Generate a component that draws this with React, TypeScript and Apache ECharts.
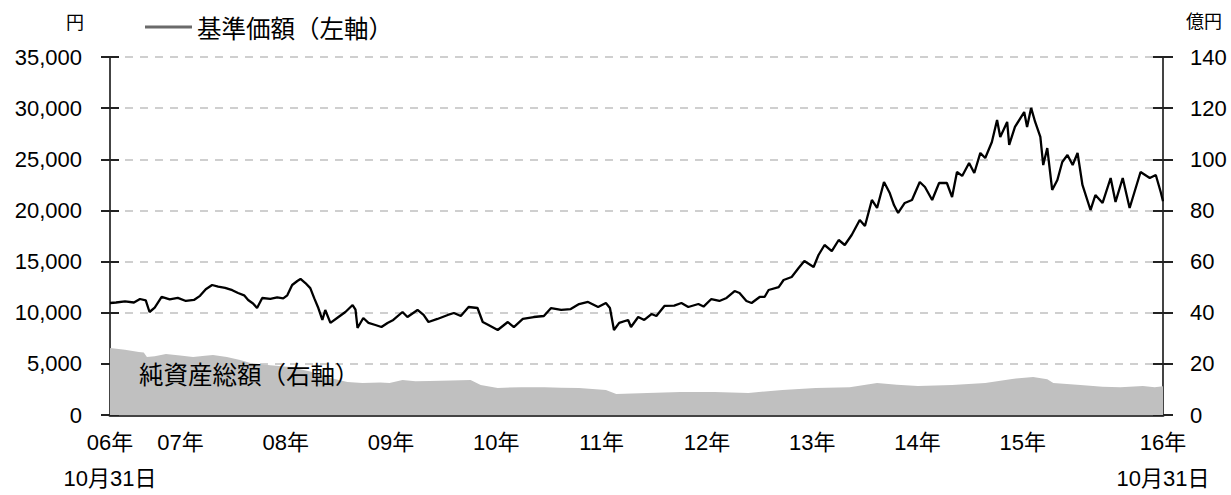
import React, { useEffect, useRef } from "react";
import * as echarts from "echarts";

// 基準価額 (円)
const navDates = [
  "2006-10-31","2006-11-21","2006-12-22","2007-01-22","2007-02-12","2007-03-04","2007-03-17","2007-04-04","2007-04-28","2007-05-26",
  "2007-06-23","2007-07-21","2007-08-18","2007-09-08","2007-09-28","2007-10-20","2007-11-10","2007-12-04","2007-12-29","2008-01-18",
  "2008-02-08","2008-02-22","2008-03-10","2008-03-24","2008-04-11","2008-05-09","2008-06-02","2008-06-23","2008-07-07","2008-07-24",
  "2008-08-11","2008-08-22","2008-09-08","2008-09-25","2008-10-09","2008-10-23","2008-11-06","2008-11-16","2008-12-04","2009-01-01",
  "2009-01-25","2009-02-19","2009-03-01","2009-03-08","2009-03-28","2009-04-15","2009-05-09","2009-05-30","2009-06-20","2009-07-10",
  "2009-08-11","2009-08-28","2009-10-02","2009-10-23","2009-11-09","2009-12-10","2010-01-15","2010-02-05","2010-03-01","2010-03-28",
  "2010-04-28","2010-05-16","2010-06-05","2010-07-07","2010-08-11","2010-09-01","2010-10-02","2010-11-09","2010-12-14","2011-01-08",
  "2011-02-12","2011-03-17","2011-04-15","2011-05-16","2011-06-20","2011-07-17","2011-07-31","2011-08-14","2011-09-01","2011-10-02",
  "2011-10-12","2011-11-06","2011-11-27","2011-12-22","2012-01-08","2012-02-05","2012-03-10","2012-04-04","2012-04-28","2012-06-02",
  "2012-06-20","2012-07-17","2012-08-14","2012-09-08","2012-10-06","2012-10-23","2012-11-16","2012-12-04","2013-01-01","2013-01-18",
  "2013-02-01","2013-03-08","2013-03-25","2013-04-22","2013-05-16","2013-06-05","2013-07-07","2013-07-24","2013-08-14","2013-09-08",
  "2013-10-02","2013-10-23","2013-11-16","2013-12-14","2014-01-01","2014-01-25","2014-02-12","2014-03-08","2014-03-28","2014-04-12",
  "2014-04-26","2014-05-19","2014-06-13","2014-07-10","2014-07-28","2014-08-22","2014-09-15","2014-10-12","2014-10-30","2014-11-16",
  "2014-12-04","2014-12-28","2015-01-15","2015-02-05","2015-02-22","2015-03-17","2015-04-04","2015-04-15","2015-05-09","2015-05-16",
  "2015-06-05","2015-07-07","2015-07-17","2015-07-31","2015-08-14","2015-09-01","2015-09-11","2015-09-25","2015-10-12","2015-10-30",
  "2015-11-16","2015-12-04","2015-12-22","2016-01-08","2016-01-25","2016-02-22","2016-03-10","2016-04-04","2016-05-02","2016-05-19",
  "2016-06-13","2016-07-07","2016-08-14","2016-09-15","2016-10-06","2016-10-23","2016-10-31"
];
const navValues = [
  10950,11000,11100,11000,11340,11200,10070,10500,11540,11300,
  11450,11150,11250,11650,12300,12710,12550,12420,12200,11930,
  11700,11240,10900,10460,11440,11350,11500,11400,11700,12710,
  13100,13300,12900,12400,11400,10460,9290,10270,9000,9580,
  10070,10750,10300,8510,9480,9000,8800,8600,9000,9290,
  10070,9580,10270,9780,9090,9390,9780,9970,9680,10560,
  10460,9090,8800,8310,9090,8600,9390,9580,9680,10460,
  10270,10360,10850,11050,10560,10950,10460,8310,9000,9290,
  8600,9580,9290,9870,9680,10660,10700,10950,10560,10850,
  10600,11340,11150,11440,12120,11930,11150,10950,11540,11540,
  12220,12510,13200,13490,14370,15060,14470,15640,16620,16030,
  17110,16620,17600,19070,18480,21020,20240,22780,21700,20500,
  19750,20730,21020,22780,22290,21020,22680,22680,21310,23760,
  23370,24640,23660,25620,25130,26690,28840,27180,28650,26400,
  28160,29620,28160,30020,28650,27180,24440,26100,22000,22980,
  24740,25420,24440,25620,22490,20040,21510,20730,23170,20830,
  23170,20240,23760,23170,23460,21800,20900
];

// 純資産総額 (億円)
const assetDates = [
  "2006-10-31","2006-12-22","2007-02-08","2007-02-25","2007-03-08","2007-04-04","2007-05-13","2007-07-01","2007-08-15","2007-09-25",
  "2007-10-23","2007-12-10","2008-01-25","2008-03-01","2008-05-09","2008-07-17","2008-09-25","2008-12-04","2009-02-01","2009-03-25",
  "2009-05-26","2009-06-27","2009-08-11","2009-09-25","2009-11-13","2010-01-25","2010-04-04","2010-05-09","2010-07-07","2010-09-25",
  "2010-12-17","2011-02-12","2011-04-15","2011-07-17","2011-08-22","2011-12-08","2012-04-01","2012-07-28","2012-11-23","2013-03-21",
  "2013-07-14","2013-11-09","2014-02-12","2014-04-22","2014-07-04","2014-10-30","2015-02-22","2015-05-26","2015-08-07","2015-09-25",
  "2015-10-16","2016-01-18","2016-04-04","2016-06-05","2016-08-22","2016-10-02","2016-10-31"
];
const assetValues = [
  26.2,25.5,24.6,24.4,22.7,23.0,23.9,23.3,22.7,23.2,
  23.5,22.7,21.5,20.3,19.5,18.8,17.0,14.5,12.9,12.5,
  12.7,12.5,13.7,13.2,13.3,13.5,13.7,11.7,10.6,10.9,
  10.9,10.7,10.6,9.8,8.2,8.6,9.0,9.0,8.6,9.8,
  10.6,10.9,12.5,11.8,11.3,11.7,12.5,14.1,14.9,14.0,
  12.5,11.7,11.0,10.9,11.3,10.9,11.2
];

const yearTickDates = [
  "2007-01-01","2008-01-01","2009-01-01","2010-01-01","2011-01-01",
  "2012-01-01","2013-01-01","2014-01-01","2015-01-01","2016-01-01"
];
const xLabelDates = [
  "2006-10-31","2007-07-02","2008-07-02","2009-07-02","2010-07-02","2011-07-02",
  "2012-07-02","2013-07-02","2014-07-02","2015-07-02","2016-10-31"
];
const xLabels = [
  "06年\n10月31日","07年","08年","09年","10年","11年","12年","13年","14年","15年","16年\n10月31日"
];

const leftMax = 35000;
const leftInterval = 5000;
const rightMax = 140;
const rightInterval = 20;

const lineName = "基準価額（左軸）";
const areaName = "純資産総額（右軸）";
const leftUnit = "円";
const rightUnit = "億円";

function toYear(d: string): number {
  const [y, m, day] = d.split("-").map(Number);
  const start = Date.UTC(y, 0, 1);
  const end = Date.UTC(y + 1, 0, 1);
  return y + (Date.UTC(y, m - 1, day) - start) / (end - start);
}

const FONT = "'Liberation Sans', 'Noto Sans CJK JP', sans-serif";
const CJK = "'Noto Sans CJK JP', 'Liberation Sans', sans-serif";
const AXIS_COLOR = "#444";

export default function App() {
  const ref = useRef<HTMLDivElement>(null);

  useEffect(() => {
    if (!ref.current) return;
    const chart = echarts.init(ref.current, undefined, { renderer: "svg" });

    const labelX = xLabelDates.map(toYear);
    const tickX = yearTickDates.map(toYear);
    const xMin = toYear(navDates[0]);
    const xMax = toYear(navDates[navDates.length - 1]);

    const option: any = {
      animation: false,
      backgroundColor: "#fff",
      grid: { left: 110, right: 68, top: 57, bottom: 80, outerBoundsMode: "none" },
      legend: {
        left: 140,
        top: 9,
        icon: "rect",
        itemWidth: 47,
        itemHeight: 3,
        textStyle: { fontSize: 24.5, color: "#000", fontFamily: CJK, lineHeight: 26 },
        data: [{ name: lineName, itemStyle: { color: "#6a6a6a" } }],
      },
      xAxis: {
        type: "value",
        min: xMin,
        max: xMax,
        axisLine: { show: true, lineStyle: { color: AXIS_COLOR, width: 3 } },
        axisTick: {
          show: true,
          inside: true,
          length: 7,
          customValues: tickX,
          lineStyle: { color: "#222", width: 2 },
        },
        axisLabel: {
          show: true,
          customValues: labelX,
          margin: 9,
          fontSize: 22,
          lineHeight: 36,
          color: "#000",
          fontFamily: FONT,
          formatter: (v: number) => {
            let best = 0;
            for (let i = 1; i < labelX.length; i++) {
              if (Math.abs(labelX[i] - v) < Math.abs(labelX[best] - v)) best = i;
            }
            return xLabels[best];
          },
        },
        splitLine: { show: false },
      },
      yAxis: [
        {
          type: "value",
          position: "left",
          min: 0,
          max: leftMax,
          interval: leftInterval,
          axisLine: { show: true, lineStyle: { color: AXIS_COLOR, width: 2 } },
          axisTick: { show: true, length: 9, lineStyle: { color: "#222", width: 2 } },
          axisLabel: {
            margin: 28,
            fontSize: 22,
            color: "#000",
            fontFamily: FONT,
            formatter: (v: number) => v.toLocaleString("en-US"),
          },
          splitLine: {
            show: true,
            lineStyle: { color: "#cfcfcf", width: 2, type: [8, 7] },
          },
        },
        {
          type: "value",
          position: "right",
          min: 0,
          max: rightMax,
          interval: rightInterval,
          axisLine: { show: true, lineStyle: { color: AXIS_COLOR, width: 2 } },
          axisTick: { show: true, length: 10, lineStyle: { color: "#222", width: 2 } },
          axisLabel: { margin: 27, fontSize: 22, color: "#000", fontFamily: FONT },
          splitLine: { show: false },
        },
        {
          type: "value",
          position: "left",
          min: 0,
          max: leftMax,
          interval: leftInterval,
          axisLine: { show: false },
          axisTick: { show: true, inside: true, length: 9, lineStyle: { color: "#222", width: 2 } },
          axisLabel: { show: false },
          splitLine: { show: false },
        },
        {
          type: "value",
          position: "right",
          min: 0,
          max: rightMax,
          interval: rightInterval,
          axisLine: { show: false },
          axisTick: { show: true, inside: true, length: 10, lineStyle: { color: "#222", width: 2 } },
          axisLabel: { show: false },
          splitLine: { show: false },
        },
      ],
      series: [
        {
          name: areaName,
          type: "line",
          yAxisIndex: 1,
          showSymbol: false,
          symbol: "none",
          lineStyle: { width: 0, color: "#c0c0c0" },
          itemStyle: { color: "#c0c0c0" },
          areaStyle: { color: "#c0c0c0", opacity: 1 },
          z: 1,
          data: assetDates.map((d, i) => [toYear(d), assetValues[i]]),
        },
        {
          name: lineName,
          type: "line",
          yAxisIndex: 0,
          showSymbol: false,
          symbol: "none",
          lineStyle: { width: 2.3, color: "#000" },
          itemStyle: { color: "#000" },
          z: 3,
          data: navDates.map((d, i) => [toYear(d), navValues[i]]),
        },
      ],
      graphic: [
        {
          type: "text",
          x: 75,
          y: 21,
          z: 100,
          style: {
            text: leftUnit,
            fontSize: 18,
            fontFamily: CJK,
            fill: "#000",
            align: "center",
            verticalAlign: "middle",
          },
        },
        {
          type: "text",
          x: 1204,
          y: 20,
          z: 100,
          style: {
            text: rightUnit,
            fontSize: 18,
            fontFamily: CJK,
            fill: "#000",
            align: "center",
            verticalAlign: "middle",
          },
        },
        {
          type: "text",
          x: 139,
          y: 373,
          z: 100,
          style: {
            text: areaName,
            fontSize: 24.5,
            fontFamily: CJK,
            fill: "#000",
            align: "left",
            verticalAlign: "middle",
          },
        },
      ],
    };

    chart.setOption(option);
    return () => chart.dispose();
  }, []);

  return (
    <div
      ref={ref}
      style={{ position: "absolute", left: 0, top: 0, width: 1231, height: 495 }}
    />
  );
}
